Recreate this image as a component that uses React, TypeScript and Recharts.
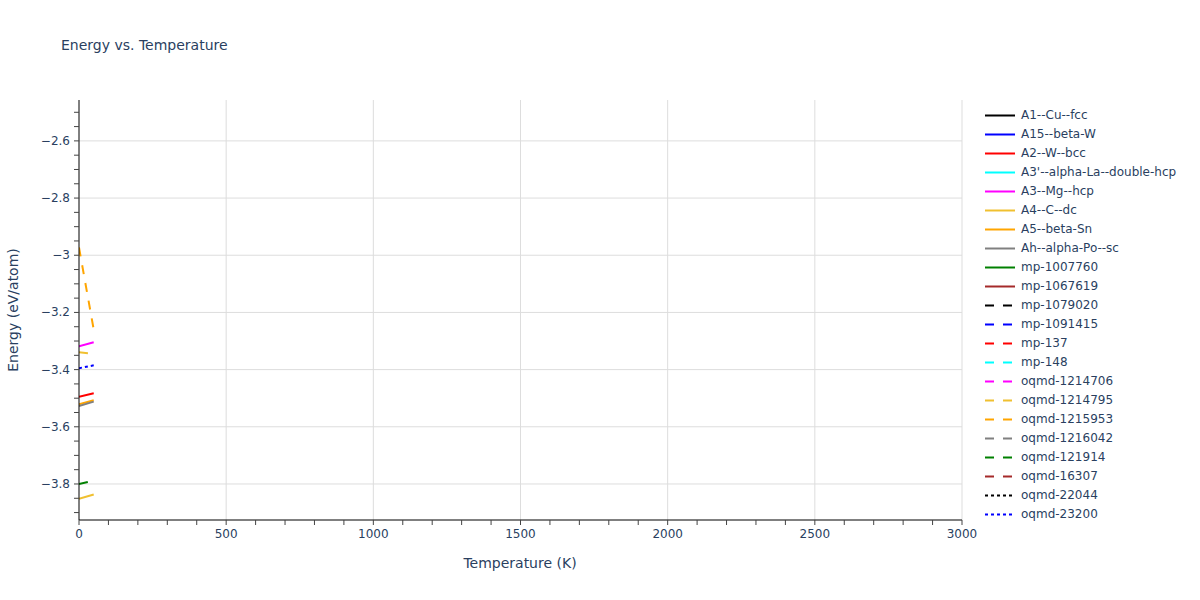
import { LineChart, Line, XAxis, YAxis, CartesianGrid } from "recharts";

// temperature grid (K) shared by every series
const TEMPS = [0, 50];

// energies (eV/atom), one value per temperature
const A2_W_BCC = [-3.495, -3.483];
const A3_MG_HCP = [-3.318, -3.304];
const A4_C_DC = [-3.852, -3.837];
const A5_BETA_SN = [-3.521, -3.507];
const AH_ALPHA_PO_SC = [-3.527, -3.512];
const OQMD_1214795 = [-3.339, -3.345];
const OQMD_1215953 = [-2.973, -3.26];
const OQMD_121914 = [-3.8, -3.789];
const OQMD_23200 = [-3.395, -3.385];

const X_MAJOR = [0, 500, 1000, 1500, 2000, 2500, 3000];
const X_MINOR = [
  0, 100, 200, 300, 400, 500, 600, 700, 800, 900, 1000, 1100, 1200, 1300, 1400, 1500,
  1600, 1700, 1800, 1900, 2000, 2100, 2200, 2300, 2400, 2500, 2600, 2700, 2800, 2900, 3000,
];
const Y_MAJOR = [-3.8, -3.6, -3.4, -3.2, -3, -2.8, -2.6];
const Y_MINOR = [
  -3.9, -3.85, -3.8, -3.75, -3.7, -3.65, -3.6, -3.55, -3.5, -3.45, -3.4, -3.35, -3.3, -3.25,
  -3.2, -3.15, -3.1, -3.05, -3, -2.95, -2.9, -2.85, -2.8, -2.75, -2.7, -2.65, -2.6, -2.55, -2.5,
];

type Series = { name: string; color: string; dash: "solid" | "dash" | "dot"; values?: number[] };

const SERIES: Series[] = [
  { name: "A1--Cu--fcc", color: "#000000", dash: "solid" },
  { name: "A15--beta-W", color: "#0000ff", dash: "solid" },
  { name: "A2--W--bcc", color: "#ff0000", dash: "solid", values: A2_W_BCC },
  { name: "A3'--alpha-La--double-hcp", color: "#00ffff", dash: "solid" },
  { name: "A3--Mg--hcp", color: "#ff00ff", dash: "solid", values: A3_MG_HCP },
  { name: "A4--C--dc", color: "#f0c030", dash: "solid", values: A4_C_DC },
  { name: "A5--beta-Sn", color: "#ffa500", dash: "solid", values: A5_BETA_SN },
  { name: "Ah--alpha-Po--sc", color: "#808080", dash: "solid", values: AH_ALPHA_PO_SC },
  { name: "mp-1007760", color: "#008000", dash: "solid" },
  { name: "mp-1067619", color: "#a52a2a", dash: "solid" },
  { name: "mp-1079020", color: "#000000", dash: "dash" },
  { name: "mp-1091415", color: "#0000ff", dash: "dash" },
  { name: "mp-137", color: "#ff0000", dash: "dash" },
  { name: "mp-148", color: "#00ffff", dash: "dash" },
  { name: "oqmd-1214706", color: "#ff00ff", dash: "dash" },
  { name: "oqmd-1214795", color: "#f0c030", dash: "dash", values: OQMD_1214795 },
  { name: "oqmd-1215953", color: "#ffa500", dash: "dash", values: OQMD_1215953 },
  { name: "oqmd-1216042", color: "#808080", dash: "dash" },
  { name: "oqmd-121914", color: "#008000", dash: "dash", values: OQMD_121914 },
  { name: "oqmd-16307", color: "#a52a2a", dash: "dash" },
  { name: "oqmd-22044", color: "#000000", dash: "dot" },
  { name: "oqmd-23200", color: "#0000ff", dash: "dot", values: OQMD_23200 },
];

const FONT = "'DejaVu Sans', Verdana, sans-serif";
const TEXT = "#2a3f5f";
const DASHES = { solid: undefined, dash: "9 9", dot: "3 3" };

const fmtY = (v: number) => {
  const s = String(Math.round(Math.abs(v) * 100) / 100);
  return v < 0 ? "\u2212" + s : s;
};

const XTick = (props: any) => {
  const { x, y, payload } = props;
  if (!X_MAJOR.includes(payload.value)) return null;
  return (
    <text x={x} y={y} dy={11} textAnchor="middle" fill={TEXT} fontSize={12} fontFamily={FONT}>
      {payload.value}
    </text>
  );
};

const YTick = (props: any) => {
  const { x, y, payload } = props;
  const major = Y_MAJOR.some((m) => Math.abs(m - payload.value) < 1e-6);
  if (!major) return null;
  return (
    <text x={x - 2} y={y} dy={4} textAnchor="end" fill={TEXT} fontSize={12} fontFamily={FONT}>
      {fmtY(payload.value)}
    </text>
  );
};

const App = () => {
  return (
    <div style={{ position: "absolute", left: 0, top: 0, width: 1200, height: 600, background: "#fff" }}>
      <LineChart width={1200} height={600} margin={{ top: 100, right: 238, bottom: 0, left: 0 }}>
        <CartesianGrid
          stroke="#dddddd"
          horizontalValues={Y_MAJOR}
          verticalValues={X_MAJOR.slice(1)}
        />
        <XAxis
          type="number"
          dataKey="t"
          domain={[0, 3000]}
          ticks={X_MINOR}
          interval={0}
          allowDataOverflow
          height={80}
          axisLine={{ stroke: "#000", strokeWidth: 1 }}
          tickLine={{ stroke: "#444" }}
          tickSize={5}
          tick={<XTick />}
        />
        <YAxis
          type="number"
          domain={[-3.926, -2.457]}
          ticks={Y_MINOR}
          interval={0}
          allowDataOverflow
          width={79}
          axisLine={{ stroke: "#000", strokeWidth: 1 }}
          tickLine={{ stroke: "#444" }}
          tickSize={5}
          tick={<YTick />}
        />
        {SERIES.filter((s) => s.values).map((s) => (
          <Line
            key={s.name}
            name={s.name}
            data={TEMPS.map((t, i) => ({ t, e: s.values![i] }))}
            dataKey="e"
            stroke={s.color}
            strokeWidth={2}
            strokeDasharray={DASHES[s.dash]}
            dot={false}
            activeDot={false}
            isAnimationActive={false}
          />
        ))}
        <text x={61} y={50} fill={TEXT} fontSize={14} fontFamily={FONT}>
          Energy vs. Temperature
        </text>
        <text x={520} y={568} textAnchor="middle" fill={TEXT} fontSize={14} fontFamily={FONT}>
          Temperature (K)
        </text>
        <text
          x={18}
          y={310}
          transform="rotate(-90 18 310)"
          textAnchor="middle"
          fill={TEXT}
          fontSize={14}
          fontFamily={FONT}
        >
          Energy (eV/atom)
        </text>
      </LineChart>
      <div style={{ position: "absolute", left: 985, top: 105.5 }}>
        {SERIES.map((s) => (
          <div key={s.name} style={{ height: 19, display: "flex", alignItems: "center" }}>
            <svg width={36} height={19}>
              <line x1={0} y1={9.5} x2={30} y2={9.5} stroke={s.color} strokeWidth={2} strokeDasharray={DASHES[s.dash]} />
            </svg>
            <span style={{ fontFamily: FONT, fontSize: 12, color: TEXT, whiteSpace: "nowrap" }}>{s.name}</span>
          </div>
        ))}
      </div>
    </div>
  );
};

export default App;
